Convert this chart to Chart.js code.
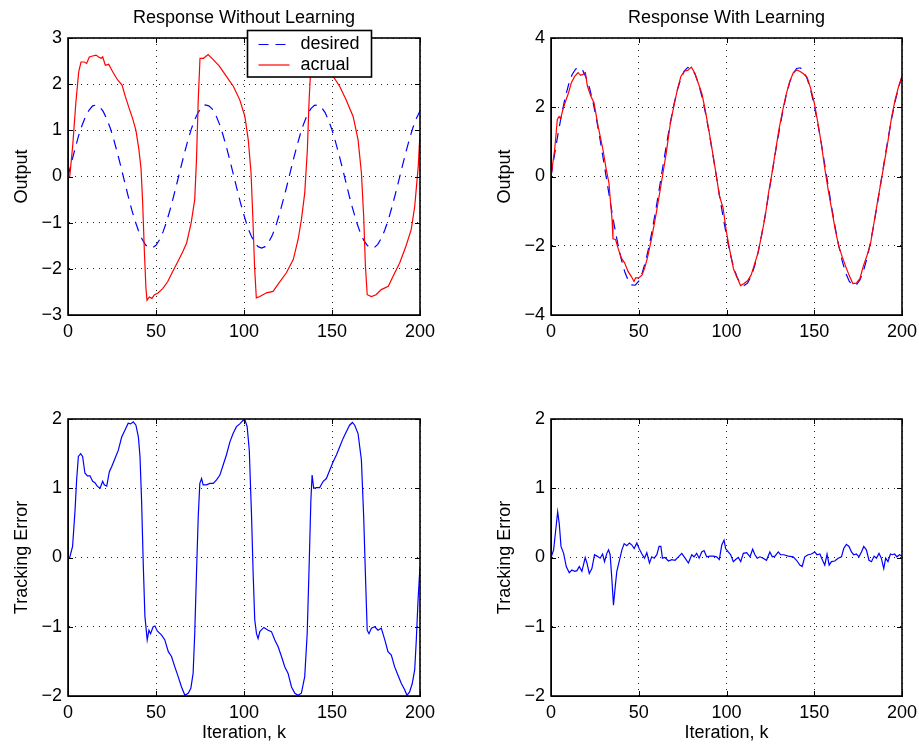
<!DOCTYPE html>
<html>
<head>
<meta charset="utf-8">
<title>Response With / Without Learning</title>
<script src="https://cdn.jsdelivr.net/npm/chart.js@4.4.1/dist/chart.umd.min.js"></script>
<style>
    html, body { margin: 0; padding: 0; background: #fff; }
    #fig { position: relative; width: 919px; height: 744px; }
    #fig canvas { position: absolute; }
</style>
</head>
<body>
<div id="fig">
    <canvas id="tl" width="459" height="372" style="left:0;top:0"></canvas>
    <canvas id="tr" width="460" height="372" style="left:459px;top:0"></canvas>
    <canvas id="bl" width="459" height="372" style="left:0;top:372px"></canvas>
    <canvas id="br" width="460" height="372" style="left:459px;top:372px"></canvas>
</div>
<script>
// ═══════════════════════════════════════════════════════════════
// Data
// ═══════════════════════════════════════════════════════════════

// iteration index for the desired trajectories: 0, 2, 4, ... 200
const kEven = Array.from({ length: 101 }, (_, i) => 2 * i);

const desiredNoLearn = [
    0, 0.31, 0.60, 0.88, 1.11, 1.30, 1.44, 1.53, 1.55, 1.51,
    1.41, 1.25, 1.05, 0.80, 0.52, 0.22, -0.09, -0.40, -0.69, -0.95,
    -1.17, -1.35, -1.48, -1.54, -1.54, -1.49, -1.37, -1.20, -0.98, -0.72,
    -0.43, -0.13, 0.18, 0.48, 0.77, 1.02, 1.23, 1.39, 1.50, 1.55,
    1.53, 1.46, 1.33, 1.14, 0.91, 0.64, 0.35, 0.04, -0.27, -0.57,
    -0.84, -1.09, -1.28, -1.43, -1.52, -1.55, -1.52, -1.42, -1.28, -1.08,
    -0.83, -0.55, -0.26, 0.05, 0.36, 0.65, 0.92, 1.15, 1.34, 1.47,
    1.54, 1.55, 1.50, 1.39, 1.22, 1.01, 0.75, 0.47, 0.17, -0.14,
    -0.45, -0.73, -0.99, -1.21, -1.38, -1.49, -1.55, -1.54, -1.47, -1.34,
    -1.16, -0.94, -0.67, -0.38, -0.08, 0.23, 0.53, 0.81, 1.06, 1.26,
    1.42
];

const kActualNoLearn = [
    0, 1, 2.7, 4.5, 6.1, 7.4, 9.3, 10.6, 12.1, 14,
    15.9, 17.4, 18.8, 19.7, 21.2, 23.1, 25.4, 28.2, 30.7, 32.6,
    34.8, 36.7, 38.6, 40.2, 41.5, 42.4, 43.4, 44.3, 44.9, 46.2,
    47.7, 49.1, 51, 53.8, 56.6, 59.5, 62.3, 65.2, 67.4, 70,
    72, 73, 74, 75, 77, 79.6, 82.5, 86, 90, 94,
    97.6, 100.5, 102.4, 104, 105, 106, 107, 109, 112.8, 116.5,
    120, 124, 128, 130.7, 132.6, 134.5, 136, 137, 137.7, 139,
    142, 145, 148, 151, 154.4, 158, 162, 164.8, 166.7, 168,
    169, 170, 172.4, 175, 178, 182, 184.7, 188.5, 192, 195,
    197, 199, 200
];
const actualNoLearn = [
    0, 0, 0.68, 1.62, 2.27, 2.48, 2.48, 2.45, 2.59, 2.61,
    2.63, 2.59, 2.56, 2.59, 2.41, 2.43, 2.27, 2.09, 1.98, 1.73,
    1.47, 1.26, 1.0, 0.61, 0.17, -0.55, -1.63, -2.43, -2.68, -2.61,
    -2.64, -2.56, -2.53, -2.43, -2.28, -2.06, -1.85, -1.63, -1.44, -1.0,
    -0.5, 0.36, 1.66, 2.56, 2.56, 2.64, 2.53, 2.39, 2.17, 1.95,
    1.66, 1.3, 0.8, 0.08, -0.86, -1.95, -2.63, -2.6, -2.52, -2.49,
    -2.3, -2.09, -1.8, -1.37, -0.94, -0.36, 0.58, 1.66, 2.17, 2.55,
    2.6, 2.56, 2.4, 2.15, 1.95, 1.66, 1.3, 0.8, 0.08, -0.86,
    -1.95, -2.56, -2.6, -2.56, -2.45, -2.38, -2.16, -1.87, -1.51, -1.15,
    -0.65, 0.22, 0.94
];

const desiredLearn = [
    0, 0.63, 1.23, 1.78, 2.26, 2.65, 2.94, 3.10, 3.15, 3.07,
    2.86, 2.55, 2.13, 1.63, 1.06, 0.44, -0.18, -0.81, -1.40, -1.93,
    -2.38, -2.75, -3.00, -3.13, -3.14, -3.02, -2.78, -2.43, -1.99, -1.46,
    -0.88, -0.26, 0.37, 0.98, 1.56, 2.07, 2.50, 2.83, 3.05, 3.15,
    3.12, 2.96, 2.69, 2.31, 1.84, 1.30, 0.70, 0.08, -0.55, -1.15,
    -1.71, -2.21, -2.61, -2.91, -3.09, -3.15, -3.08, -2.89, -2.59, -2.19,
    -1.69, -1.13, -0.52, 0.11, 0.73, 1.32, 1.86, 2.34, 2.72, 2.98,
    3.12, 3.14, 3.04, 2.82, 2.49, 2.05, 1.53, 0.96, 0.34, -0.29,
    -0.91, -1.49, -2.01, -2.45, -2.80, -3.03, -3.14, -3.13, -2.99, -2.73,
    -2.37, -1.91, -1.37, -0.78, -0.16, 0.47, 1.08, 1.65, 2.15, 2.56,
    2.88
];

const kActualLearn = [
    0, 2.1, 3.6, 4.6, 5.5, 6.8, 8.7, 10, 11.6, 13.5,
    15.4, 16.9, 18.2, 19.6, 20.7, 22.6, 24.5, 26.8, 29.6, 31.5,
    33, 33.8, 34.8, 35.3, 36.8, 38.2, 40.1, 42, 43.9, 45.8,
    47.3, 48.2, 50, 51.9, 53.4, 54.9, 57.2, 60, 62.9, 65.7,
    68, 70, 72, 74, 76, 78, 80, 82, 84, 86,
    88, 90, 92, 94, 96, 98, 100, 102, 104, 106,
    108, 110, 112, 114, 116, 118, 120, 122, 124, 126,
    128, 130, 132, 134, 136, 138, 140, 142, 144, 146,
    148, 150, 152, 154, 156, 158, 160, 162, 164, 166,
    168, 170, 172, 174, 176, 178, 180, 182, 184, 186,
    188, 190, 192, 194, 196, 198, 200
];
const actualLearn = [
    0, 0.78, 1.65, 1.73, 1.67, 1.94, 2.23, 2.42, 2.71, 2.89,
    3.0, 2.92, 2.95, 3.0, 2.62, 2.33, 2.13, 1.46, 0.78, 0.2,
    -0.18, -0.67, -1.25, -1.8, -1.82, -2.07, -2.36, -2.5, -2.74, -2.89,
    -3.03, -2.93, -2.93, -2.84, -2.64, -2.36, -1.82, -1.05, -0.18, 0.69,
    1.53, 2.03, 2.50, 2.89, 3.04, 3.07, 3.16, 2.98, 2.68, 2.39,
    1.89, 1.32, 0.72, 0.09, -0.57, -0.90, -1.61, -2.17, -2.67, -2.91,
    -3.15, -3.09, -3.01, -2.85, -2.53, -2.20, -1.69, -1.17, -0.46, 0.12,
    0.76, 1.39, 1.90, 2.37, 2.74, 2.99, 3.08, 3.03, 2.96, 2.86,
    2.54, 2.13, 1.57, 0.96, 0.23, -0.40, -0.97, -1.54, -2.02, -2.33,
    -2.61, -2.87, -3.09, -3.08, -2.95, -2.58, -2.29, -1.96, -1.35, -0.74,
    -0.16, 0.42, 1.02, 1.69, 2.20, 2.59, 2.90
];

const kErrNoLearn = [
    0, 1, 2.6, 4, 4.9, 5.9, 7.2, 8.3, 9.6, 11,
    12.5, 14, 15.3, 16.6, 18.2, 19.7, 20.6, 22, 23.5, 24.8,
    26.7, 28.6, 30.5, 32.4, 34.2, 35.6, 37.1, 38.6, 40, 40.9,
    41.8, 42.8, 43.7, 45, 46, 46.9, 48.4, 49.4, 50.7, 53.2,
    55, 57, 58.8, 60.7, 62.6, 64.5, 66.4, 68.3, 69.8, 71.1,
    72, 73, 74, 74.9, 75.9, 76.8, 78.7, 80.6, 82.5, 84.4,
    86.3, 88.2, 90, 92, 93.8, 95.7, 97.6, 99.5, 100.5, 101.8,
    103, 104.3, 105.2, 106.1, 107.1, 108, 109, 111.3, 113.7, 115.6,
    117.5, 119.4, 121.3, 123.2, 125, 127, 128.9, 130.7, 132.6, 134.5,
    135.9, 137, 138, 138.7, 139.6, 141.2, 143, 145, 146.8, 148.7,
    150.6, 152.5, 154.4, 156.3, 158.2, 160, 161.6, 162.9, 164.8, 166.7,
    168, 169.2, 170, 171, 172.4, 174.3, 176.1, 178, 180, 181.8,
    183.7, 185.6, 187.5, 189.4, 191.3, 192.6, 194.1, 195.6, 197, 197.9,
    198.9, 200
];
const errNoLearn = [
    0, 0, 0.16, 0.68, 1.12, 1.46, 1.5, 1.46, 1.22, 1.18,
    1.18, 1.1, 1.08, 1.03, 1.0, 1.1, 1.05, 1.03, 1.24, 1.31,
    1.43, 1.55, 1.74, 1.84, 1.94, 1.93, 1.96, 1.91, 1.74, 1.46,
    0.83, -0.13, -0.85, -1.19, -1.05, -1.1, -1.0, -0.99, -1.06, -1.12,
    -1.19, -1.36, -1.43, -1.58, -1.72, -1.87, -1.99, -1.96, -1.89, -1.67,
    -1.1, -0.23, 0.59, 1.07, 1.14, 1.05, 1.05, 1.07, 1.07, 1.12,
    1.19, 1.34, 1.48, 1.67, 1.79, 1.89, 1.93, 1.98, 1.99, 1.89,
    1.55, 0.59, -0.23, -0.9, -1.1, -1.17, -1.07, -1.01, -1.05, -1.07,
    -1.19, -1.29, -1.43, -1.58, -1.67, -1.87, -1.96, -1.99, -1.96, -1.72,
    -1.1, -0.13, 0.83, 1.19, 1.0, 1.01, 1.01, 1.1, 1.14, 1.26,
    1.38, 1.48, 1.6, 1.72, 1.82, 1.91, 1.95, 1.91, 1.79, 1.41,
    0.59, -0.42, -1.05, -1.1, -1.02, -1.0, -1.05, -1.02, -1.19, -1.36,
    -1.41, -1.58, -1.7, -1.82, -1.91, -1.99, -1.94, -1.82, -1.62, -1.19,
    -0.61, -0.13
];

const kErrLearn = [
    0, 1.5, 2.5, 3.8, 4.7, 5.7, 7.2, 8.7, 10.4, 11.9,
    13.5, 14.8, 16.1, 17.6, 19.5, 20.5, 21.8, 23.3, 24.8, 26.2,
    28, 29.4, 30.5, 31.8, 32.8, 33.7, 34.7, 35.6, 36.6, 37.5,
    39, 40.4, 41.7, 43.2, 44.7, 46.1, 47.4, 48.9, 50.2, 51.8,
    53.3, 54.6, 56.1, 57.4, 58.8, 60.3, 61.6, 62.6, 63.5, 65,
    66.9, 68.8, 70.7, 72.6, 74.5, 76.4, 78.3, 80.2, 81.5, 83,
    84.4, 85.9, 87.2, 88.7, 90.6, 92.5, 94.4, 95.9, 97.3, 98.6,
    99.5, 101, 102.4, 103.9, 105.2, 106.7, 108.1, 109.6, 111.5, 113.4,
    114.9, 116.2, 117.5, 119, 120.9, 122.8, 124.7, 126.1, 127.6, 129.5,
    130.8, 132.7, 135.2, 138, 139.9, 141.8, 143.1, 144.6, 146.5, 148.4,
    150.3, 151.6, 153.2, 154.7, 156, 157.3, 158.5, 159.8, 161.7, 163.6,
    165.5, 166.8, 168.3, 169.8, 171.2, 172.5, 174, 175.5, 176.9, 178.2,
    179.7, 181.2, 182.6, 184.1, 185.4, 186.9, 188.2, 189.6, 190.7, 192,
    193.4, 194.5, 195.8, 197.1, 198.6, 200
];
const errLearn = [
    0, 0.11, 0.35, 0.66, 0.49, 0.16, 0.06, -0.13, -0.22, -0.18,
    -0.2, -0.19, -0.13, -0.2, 0, -0.08, -0.23, -0.16, 0.04, 0.02,
    -0.01, 0.05, -0.06, 0.06, 0.11, 0.04, -0.32, -0.69, -0.42, -0.2,
    -0.04, 0.11, 0.2, 0.17, 0.21, 0.18, 0.13, 0.21, 0.13, 0.05,
    -0.01, 0.07, -0.08, 0.01, -0.01, 0.04, 0.16, 0.16, -0.01, 0,
    -0.05, -0.03, -0.04, 0.01, 0.06, -0.01, -0.08, 0.04, 0.01, 0.06,
    -0.01, 0.08, 0.1, 0.01, 0.02, 0.02, 0.01, -0.03, 0.18, 0.25,
    0.13, 0.08, 0.04, -0.06, -0.03, 0, -0.06, 0.06, 0.07, 0.01,
    0.12, 0.04, -0.01, 0.01, -0.01, -0.04, 0.08, 0.01, 0.02, 0.08,
    0.04, 0.04, 0.02, 0.01, -0.04, -0.11, -0.13, 0.01, 0.04, 0.05,
    0.08, 0.04, 0.05, -0.04, -0.11, 0.05, -0.11, -0.06, -0.05, -0.01,
    0.01, 0.13, 0.19, 0.16, 0.08, 0.04, 0.05, 0.01, 0.08, 0.16,
    0.11, -0.04, -0.06, 0.02, -0.01, 0.06, -0.01, -0.16, -0.01, -0.06,
    0.05, 0.04, 0.05, 0.01, 0.04, 0.02
];

// axis ticks
const xTicks = [0, 50, 100, 150, 200];
const yTicksOutputNoLearn = [-3, -2, -1, 0, 1, 2, 3];
const yTicksOutputLearn = [-4, -2, 0, 2, 4];
const yTicksError = [-2, -1, 0, 1, 2];

// ═══════════════════════════════════════════════════════════════
// Styling
// ═══════════════════════════════════════════════════════════════

const FONT = "'Liberation Sans', Arial, Helvetica, sans-serif";
Chart.defaults.font.family = FONT;
Chart.defaults.font.size = 18;
Chart.defaults.color = '#000';

const BLUE = '#0000ff';
const RED = '#ff0000';
const DASH = [10, 7];

const pts = (ks, vs) => ks.map((k, i) => ({ x: k, y: vs[i] }));
const minus = v => String(v).replace('-', '\u2212');

// MATLAB style frame: full box, inward ticks, title and boxed legend
const framePlugin = {
    id: 'frame',
    afterDraw(chart, args, o) {
        const { ctx, chartArea: a, scales: { x, y } } = chart;
        ctx.save();
        ctx.strokeStyle = '#000';
        ctx.lineWidth = 1;
        ctx.beginPath();
        x.ticks.forEach(t => {
            const px = Math.round(x.getPixelForValue(t.value)) + 0.5;
            ctx.moveTo(px, a.bottom); ctx.lineTo(px, a.bottom - 5);
            ctx.moveTo(px, a.top); ctx.lineTo(px, a.top + 5);
        });
        y.ticks.forEach(t => {
            const py = Math.round(y.getPixelForValue(t.value)) + 0.5;
            ctx.moveTo(a.left, py); ctx.lineTo(a.left + 5, py);
            ctx.moveTo(a.right, py); ctx.lineTo(a.right - 5, py);
        });
        ctx.stroke();
        ctx.lineWidth = 1.6;
        ctx.strokeRect(a.left, a.top, a.right - a.left, a.bottom - a.top);

        ctx.fillStyle = '#000';
        ctx.font = '18px ' + FONT;
        if (o.title) {
            ctx.textAlign = 'center';
            ctx.textBaseline = 'middle';
            ctx.fillText(o.title, (a.left + a.right) / 2, 18);
        }
        if (o.legend) {
            const L = o.legend;
            ctx.fillStyle = '#fff';
            ctx.fillRect(L.x, L.y, L.w, L.h);
            ctx.lineWidth = 1.6;
            ctx.strokeRect(L.x, L.y, L.w, L.h);
            chart.data.datasets.forEach((ds, i) => {
                const ry = L.y + 14 + i * 20.5;
                ctx.strokeStyle = ds.borderColor;
                ctx.lineWidth = 1.2;
                ctx.setLineDash(ds.borderDash || []);
                ctx.beginPath();
                ctx.moveTo(L.x + 11, ry); ctx.lineTo(L.x + 42, ry);
                ctx.stroke();
                ctx.setLineDash([]);
                ctx.fillStyle = '#000';
                ctx.textAlign = 'left';
                ctx.textBaseline = 'middle';
                ctx.fillText(ds.label, L.x + 53, ry);
            });
        }
        ctx.restore();
    }
};

// ═══════════════════════════════════════════════════════════════
// Subplot builder
// ═══════════════════════════════════════════════════════════════

function makeSubplot(id, cfg) {
    const canvas = document.getElementById(id);
    const W = canvas.width, H = canvas.height;
    const a = cfg.area;

    return new Chart(canvas, {
        type: 'line',
        data: { datasets: cfg.datasets },
        options: {
            responsive: false,
            animation: false,
            events: [],
            layout: {
                autoPadding: false,
                padding: { left: 0, top: a.top, right: W - a.right, bottom: 0 }
            },
            elements: {
                point: { radius: 0 },
                line: { borderWidth: 1.2, tension: 0, fill: false }
            },
            plugins: {
                legend: { display: false },
                tooltip: { enabled: false },
                frame: { title: cfg.title, legend: cfg.legend }
            },
            scales: {
                x: {
                    type: 'linear',
                    min: 0,
                    max: 200,
                    afterBuildTicks: s => { s.ticks = xTicks.map(v => ({ value: v })); },
                    ticks: { padding: 6, maxRotation: 0, callback: minus },
                    grid: { color: '#222', lineWidth: 1, drawTicks: false },
                    border: { display: true, color: '#000', width: 1, dash: [1, 5] },
                    title: {
                        display: !!cfg.xTitle,
                        text: cfg.xTitle || '',
                        padding: { top: 0, bottom: 0 }
                    },
                    afterFit: s => {
                        s.height = H - a.bottom;
                        s.paddingLeft = 0; s.paddingRight = 0;
                    }
                },
                y: {
                    type: 'linear',
                    min: cfg.yTicks[0],
                    max: cfg.yTicks[cfg.yTicks.length - 1],
                    afterBuildTicks: s => { s.ticks = cfg.yTicks.map(v => ({ value: v })); },
                    ticks: { padding: 6, callback: minus },
                    grid: { color: '#222', lineWidth: 1, drawTicks: false },
                    border: { display: true, color: '#000', width: 1, dash: [1, 5] },
                    title: {
                        display: true,
                        text: cfg.yTitle,
                        padding: { top: cfg.yTitleX - 10.8, bottom: 0 }
                    },
                    afterFit: s => {
                        s.width = a.left;
                        s.paddingTop = 0; s.paddingBottom = 0;
                    }
                }
            }
        },
        plugins: [framePlugin]
    });
}

function desiredSet(ks, vs) {
    return { label: 'desired', data: pts(ks, vs), borderColor: BLUE, borderDash: DASH, order: 2 };
}
function actualSet(ks, vs) {
    return { label: 'acrual', data: pts(ks, vs), borderColor: RED, order: 1 };
}

makeSubplot('tl', {
    area: { left: 68, right: 420, top: 38, bottom: 315 },
    title: 'Response Without Learning',
    yTitle: 'Output',
    yTitleX: 22,
    yTicks: yTicksOutputNoLearn,
    legend: { x: 247.5, y: 30.5, w: 124, h: 46.5 },
    datasets: [desiredSet(kEven, desiredNoLearn), actualSet(kActualNoLearn, actualNoLearn)]
});

makeSubplot('tr', {
    area: { left: 92, right: 443, top: 38, bottom: 315 },
    title: 'Response With Learning',
    yTitle: 'Output',
    yTitleX: 46,
    yTicks: yTicksOutputLearn,
    datasets: [desiredSet(kEven, desiredLearn), actualSet(kActualLearn, actualLearn)]
});

makeSubplot('bl', {
    area: { left: 68, right: 420, top: 47, bottom: 324 },
    yTitle: 'Tracking Error',
    yTitleX: 22,
    xTitle: 'Iteration, k',
    yTicks: yTicksError,
    datasets: [{ label: 'error', data: pts(kErrNoLearn, errNoLearn), borderColor: BLUE }]
});

makeSubplot('br', {
    area: { left: 92, right: 443, top: 47, bottom: 324 },
    yTitle: 'Tracking Error',
    yTitleX: 46,
    xTitle: 'Iteration, k',
    yTicks: yTicksError,
    datasets: [{ label: 'error', data: pts(kErrLearn, errLearn), borderColor: BLUE }]
});
</script>
</body>
</html>
